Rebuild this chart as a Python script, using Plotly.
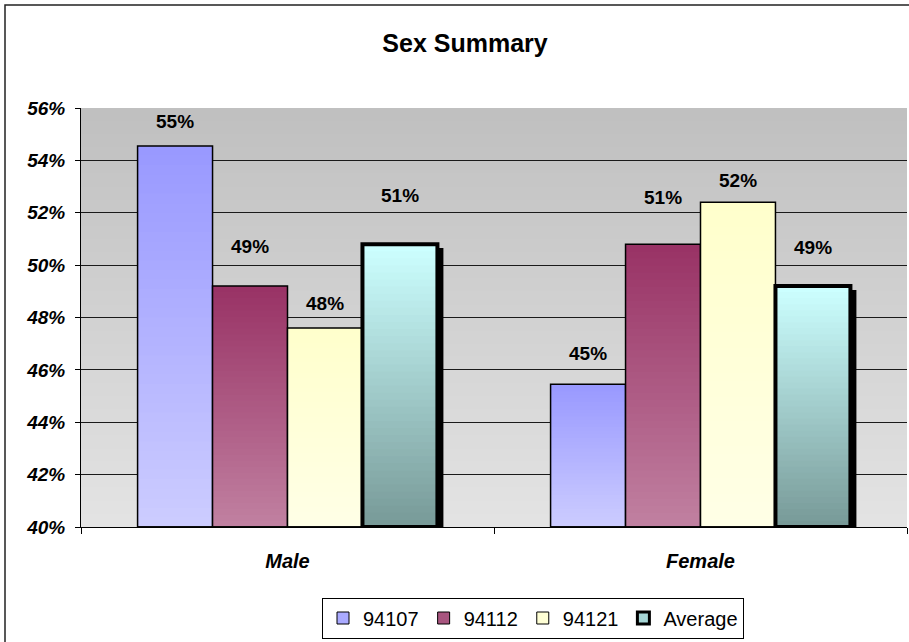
import plotly.graph_objects as go

# ---------------- data ----------------
categories = ["Male", "Female"]
series_names = ["94107", "94112", "94121", "Average"]
v_94107 = [54.55, 45.45]
v_94112 = [49.2, 50.8]
v_94121 = [47.6, 52.4]
v_average = [50.8, 49.2]
y_ticks = [40, 42, 44, 46, 48, 50, 52, 54, 56]
y_tick_labels = ["40%", "42%", "44%", "46%", "48%", "50%", "52%", "54%", "56%"]

series_values = [v_94107, v_94112, v_94121, v_average]

# ---------------- styles ----------------
FONT = "Liberation Sans, Arial, sans-serif"
Y_MIN, Y_MAX = 40, 56
grad_top = ["#9999FF", "#993366", "#FFFFCC", "#CCFFFF"]
grad_bottom = ["#CCCCFF", "#C080A0", "#FFFFE6", "#789A98"]
legend_fill = ["#AAAAFF", "#A8557F", "#FFFFD5", "#A6D6D6"]
outline_w = [1.5, 1.5, 1.5, 4]
bar_width = 0.1815
bar_offsets = [-0.363, -0.1815, 0.0, 0.1815]
# label distance above bar tops (px), per series per category
label_shift = [[24, 31], [40, 47], [24, 22], [49, 39]]
N_SLICES = 40


def hex_rgb(h):
    h = h.lstrip("#")
    return tuple(int(h[i:i + 2], 16) for i in (0, 2, 4))


def mix(c_a, c_b, t):
    a, b = hex_rgb(c_a), hex_rgb(c_b)
    r = [round(a[i] + (b[i] - a[i]) * t) for i in range(3)]
    return "rgb(%d,%d,%d)" % tuple(r)


def pct_label(v):
    return "%d%%" % int(v + 0.5)


fig = go.Figure()

for i, name in enumerate(series_names):
    vals = series_values[i]
    off = bar_offsets[i]
    # drop shadow for the Average series
    if name == "Average":
        fig.add_trace(go.Bar(
            x=categories, y=[v - Y_MIN - 0.15 for v in vals], base=Y_MIN,
            offset=off + 0.0145, width=bar_width,
            marker=dict(color="black", line=dict(width=0)),
            showlegend=False, hoverinfo="skip"))
    # vertical gradient built from overlapping slices (bottom colour -> top colour)
    for k in range(N_SLICES):
        frac = k / N_SLICES
        bases = [Y_MIN + (v - Y_MIN) * frac for v in vals]
        fig.add_trace(go.Bar(
            x=categories, y=[v - b for v, b in zip(vals, bases)], base=bases,
            offset=off, width=bar_width,
            marker=dict(color=mix(grad_bottom[i], grad_top[i], k / (N_SLICES - 1)),
                        line=dict(width=0)),
            showlegend=False, hoverinfo="skip"))
    # outline
    fig.add_trace(go.Bar(
        x=categories, y=[v - Y_MIN for v in vals], base=Y_MIN,
        offset=off, width=bar_width,
        marker=dict(color="rgba(0,0,0,0)", line=dict(color="black", width=outline_w[i])),
        showlegend=False, hoverinfo="skip"))
    # legend entry (zero height bars)
    fig.add_trace(go.Bar(
        x=categories, y=[0 for _ in vals], base=Y_MIN,
        offset=off, width=bar_width, name=name,
        marker=dict(color=legend_fill[i],
                    line=dict(color="black", width=3 if name == "Average" else 1)),
        showlegend=True, hoverinfo="skip"))
    # data labels
    for j, v in enumerate(vals):
        fig.add_annotation(
            x=j + off + bar_width / 2, y=v, xref="x", yref="y",
            text=pct_label(v), showarrow=False, yanchor="middle",
            yshift=label_shift[i][j],
            font=dict(family=FONT, size=19, color="black", weight="bold"))

# plot-area background gradient (darker at top)
shapes = []
M = 32
for k in range(M):
    y0 = Y_MIN + (Y_MAX - Y_MIN) * k / M
    shapes.append(dict(type="rect", xref="paper", yref="y", x0=0, x1=1, y0=y0, y1=Y_MAX,
                       fillcolor=mix("#E3E3E3", "#C0C0C0", k / (M - 1)),
                       line=dict(width=0), layer="below"))
# chart outer border
shapes.append(dict(type="rect", xref="paper", yref="paper",
                   x0=(5 - 81) / 826, x1=1.3, y0=-0.7, y1=(527 - 5) / 419,
                   line=dict(color="#222222", width=1.5), fillcolor="rgba(0,0,0,0)",
                   layer="above"))

fig.update_layout(
    width=909, height=642,
    margin=dict(l=81, r=2, t=108, b=115),
    paper_bgcolor="white", plot_bgcolor="#D0D0D0",
    barmode="overlay", hovermode=False,
    shapes=shapes,
    title=dict(text="Sex Summary", x=465 / 909, xanchor="center", xref="container",
               y=1 - 43 / 642, yanchor="middle", yref="container",
               font=dict(family=FONT, size=25, color="black", weight="bold")),
    legend=dict(orientation="h", x=(533 - 81) / 826, xanchor="center",
                y=(527 - 618) / 419, yanchor="middle",
                bgcolor="white", bordercolor="black", borderwidth=1,
                font=dict(family=FONT, size=20, color="black"),
                traceorder="normal", itemwidth=30),
    showlegend=True,
)

fig.update_xaxes(
    type="category", range=[-0.5, 1.5],
    showline=True, linecolor="black", linewidth=1,
    ticks="outside", tickson="boundaries", ticklen=6, tickcolor="black",
    showgrid=False, ticklabelstandoff=16,
    tickfont=dict(family=FONT, size=20, color="black", weight="bold", style="italic"),
)
fig.update_yaxes(
    range=[Y_MIN, Y_MAX], tickvals=y_ticks, ticktext=y_tick_labels,
    showline=True, linecolor="black", linewidth=1,
    ticks="outside", ticklen=5, tickcolor="black",
    showgrid=True, gridcolor="#1A1A1A", gridwidth=1, zeroline=False,
    ticklabelstandoff=6,
    tickfont=dict(family=FONT, size=19, color="black", weight="bold", style="italic"),
)

fig.write_html("out.html")
